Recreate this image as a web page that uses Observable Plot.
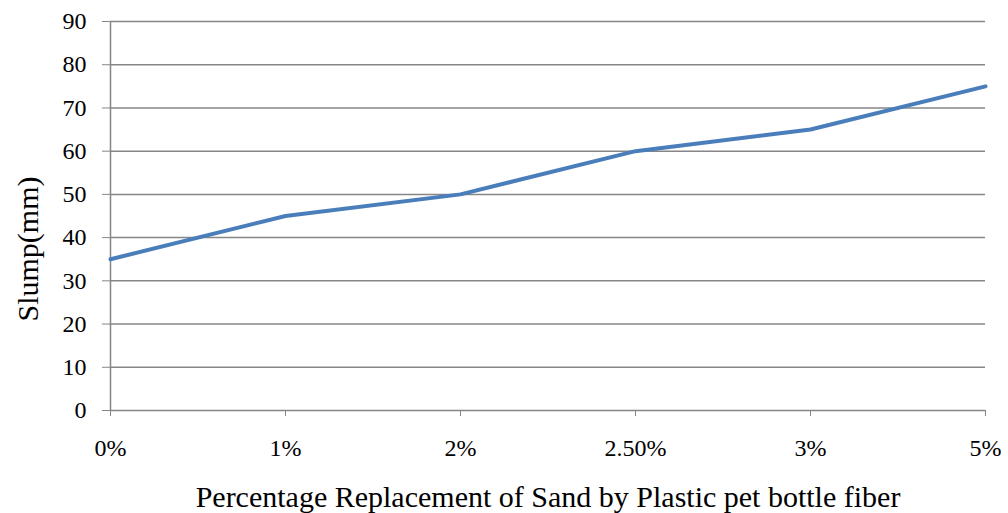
<!DOCTYPE html>
<html><head><meta charset="utf-8">
<script src="https://cdn.jsdelivr.net/npm/d3@7"></script>
<script src="https://cdn.jsdelivr.net/npm/@observablehq/plot@0.6"></script>
<style>
body{margin:0;background:#fff}
#chart svg, #chart svg text{font-family:"Liberation Serif","Times New Roman",serif !important}
#chart svg g[aria-label*="tick label"], #chart svg g[aria-label*="tick label"] text{font-size:24px !important}
</style>
</head><body><div id="chart"></div>
<script>
const categories = ["0%", "1%", "2%", "2.50%", "3%", "5%"];
const slump = [35, 45, 50, 60, 65, 75];
const yTicks = [0, 10, 20, 30, 40, 50, 60, 70, 80, 90];
const xTitle = "Percentage Replacement of Sand by Plastic pet bottle fiber";
const yTitle = "Slump(mm)";

const data = categories.map((c, i) => ({cat: c, v: slump[i]}));
const gray = "#868686";

const chart = Plot.plot({
  width: 1008, height: 513,
  marginLeft: 110, marginRight: 23, marginTop: 21, marginBottom: 103,
  style: {fontSize: "24px", color: "#000", background: "#fff"},
  x: {type: "point", domain: categories, padding: 0},
  y: {domain: [0, 90]},
  marks: [
    Plot.ruleY(yTicks, {stroke: gray, strokeWidth: 1.5, strokeOpacity: 1}),
    Plot.ruleX([categories[0]], {y1: 0, y2: 90, stroke: gray, strokeWidth: 1.5}),
    Plot.axisY({ticks: yTicks, tickSize: 8, tickPadding: 16, stroke: gray, strokeOpacity: 1, label: null, fontSize: 24}),
    Plot.axisX({tickSize: 6, tickPadding: 22, stroke: gray, strokeOpacity: 1, label: null, fontSize: 24}),
    Plot.line(data, {x: "cat", y: "v", stroke: "#4a7ebb", strokeWidth: 4}),
    Plot.text([xTitle], {frameAnchor: "bottom", lineAnchor: "middle", textAnchor: "middle", dy: 87, fontSize: 30, fill: "#000"}),
    Plot.text([yTitle], {frameAnchor: "left", textAnchor: "middle", lineAnchor: "middle", dx: -82, dy: 33, rotate: -90, fontSize: 30, fill: "#000"})
  ]
});
document.getElementById("chart").appendChild(chart);
</script>
</body></html>
